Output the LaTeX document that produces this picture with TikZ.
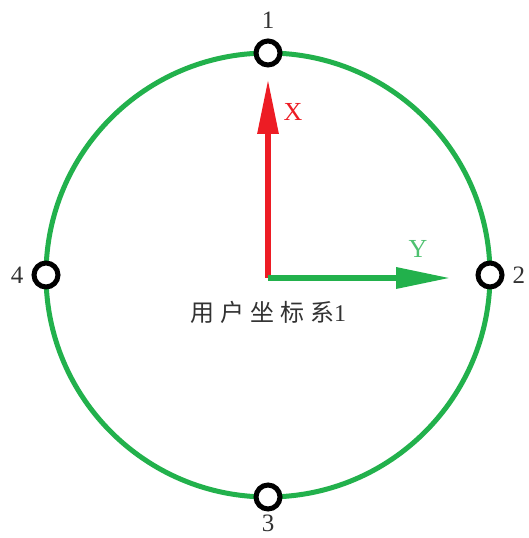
\documentclass[tikz,border=0pt]{standalone}
\usepackage{fontspec}
\setmainfont{Liberation Serif}
\newfontfamily\cjkfont[LetterSpace=25]{Noto Sans CJK SC}
\usetikzlibrary{
  arrows.meta,
  positioning,
}
\definecolor{cRing}{RGB}{34,177,76}
\definecolor{cAxisX}{RGB}{237,28,36}
\definecolor{cAxisY}{RGB}{34,177,76}
\definecolor{cText}{RGB}{50,50,50}
\tikzset{
  % Ring of the frame
  ring/.style={
    circle, draw=cRing, line width=5pt,
    minimum size=444pt, inner sep=0pt, outer sep=0pt,
  },
  % Marker on the ring
  station/.style={
    circle, draw=black, fill=white, line width=5pt,
    minimum size=24pt, inner sep=0pt,
  },
  stationlab/.style={
    font=\fontsize{25}{25}\selectfont, text=cText,
    inner sep=0pt, text depth=0pt, label distance=#1,
  },
  stationlab/.default=10pt,
  % Axis arrow
  axisarr/.style={-{Triangle[length=55pt, width=20pt]}, line width=#1},
  axislab/.style={font=\fontsize{26}{26}\selectfont},
}

\begin{document}
\begin{tikzpicture}[x=1pt, y=1pt]

\useasboundingbox (0,0) rectangle (529,538);

% ── Ring and its markers ───────────────────────────────────────────────────────
\node[ring] (ring) at (268,263) {};

\node[station, label={[stationlab]above:1}] (st1) at (ring.north) {};
\node[station, label={[stationlab=8pt]right:2}] (st2) at (ring.east) {};
\node[station, label={[stationlab=3pt]below:3}] (st3) at (ring.south) {};
\node[station, label={[stationlab=8pt]left:4}]  (st4) at (ring.west) {};

% ── Axes ───────────────────────────────────────────────────────────────────────
\coordinate (orig) at (268,260);
\coordinate (xtip) at (268,459);
\coordinate (ytip) at (451,260);

\draw[axisarr=6pt, cAxisX] (orig) -- (xtip);
\draw[axisarr=6.5pt, cAxisY] (orig) -- (ytip);

\node[axislab, text=cAxisX] (xlab) at (293,426) {X};
\node[axislab, text=cAxisY!80!white] (ylab) at (418,289) {Y};

% Frame name
\node[font=\fontsize{24}{24}\selectfont, text=cText, below=20pt of orig]
  (name) {{\cjkfont 用户坐标系}1};

\end{tikzpicture}
\end{document}
